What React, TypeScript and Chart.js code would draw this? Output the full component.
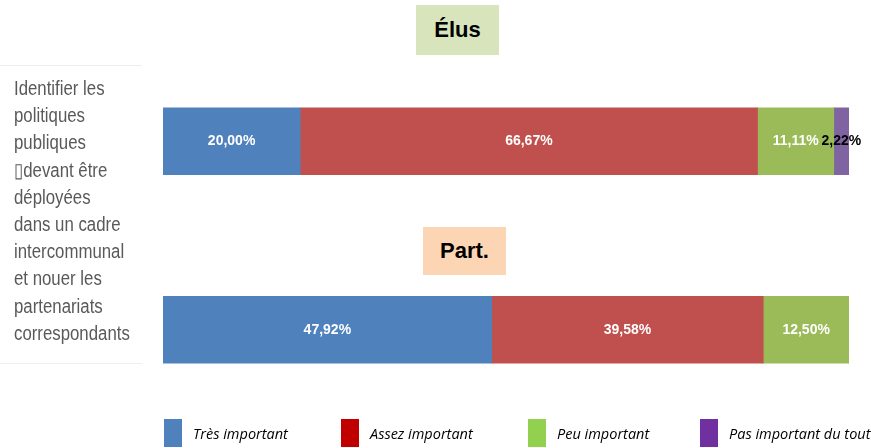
import React, { useEffect, useRef } from "react";
import { Chart, registerables } from "chart.js";

Chart.register(...registerables);

const groups = ["Élus", "Part."];
const seriesNames = ["Très important", "Assez important", "Peu important", "Pas important du tout"];
const tresImportant = [20.0, 47.92];
const assezImportant = [66.67, 39.58];
const peuImportant = [11.11, 12.5];
const pasImportant = [2.22, 0];
const barColors = ["#4f81bd", "#c0504d", "#9bbb59", "#8064a2"];
const legendColors = ["#4f81bd", "#c00000", "#92d050", "#7030a0"];
const labelColors = ["#ffffff", "#ffffff", "#ffffff", "#000000"];
const questionLines = [
  "Identifier les",
  "politiques",
  "publiques",
  "▯devant être",
  "déployées",
  "dans un cadre",
  "intercommunal",
  "et nouer les",
  "partenariats",
  "correspondants",
];

const fmt = (v: number) => v.toFixed(2).replace(".", ",") + "%";

const labelPlugin = {
  id: "segLabels",
  afterDatasetsDraw(chart: any) {
    const ctx = chart.ctx;
    ctx.save();
    ctx.font = "bold 14px 'Liberation Sans', Arial, sans-serif";
    ctx.textAlign = "center";
    ctx.textBaseline = "middle";
    chart.data.datasets.forEach((ds: any, di: number) => {
      const meta = chart.getDatasetMeta(di);
      meta.data.forEach((el: any, i: number) => {
        const v = ds.data[i];
        if (!v) return;
        ctx.fillStyle = labelColors[di];
        ctx.fillText(fmt(v), (el.x + el.base) / 2, el.y);
      });
    });
    ctx.restore();
  },
};

export default function App() {
  const ref = useRef<HTMLCanvasElement>(null);
  useEffect(() => {
    const values = [tresImportant, assezImportant, peuImportant, pasImportant];
    const chart = new Chart(ref.current!, {
      type: "bar",
      data: {
        labels: groups,
        datasets: seriesNames.map((n, i) => ({
          label: n,
          data: values[i],
          backgroundColor: barColors[i],
          borderWidth: 0,
          barThickness: 67,
        })),
      },
      options: {
        indexAxis: "y",
        animation: false,
        responsive: false,
        maintainAspectRatio: false,
        layout: { padding: { left: 163, right: 22, top: 47, bottom: 24 } },
        scales: {
          x: { stacked: true, min: 0, max: 100, display: false },
          y: { stacked: true, display: false },
        },
        plugins: { legend: { display: false }, tooltip: { enabled: false }, title: { display: false } },
      },
      plugins: [labelPlugin],
    } as any);
    return () => chart.destroy();
  }, []);

  const legendLeft = [164, 341, 528, 700];

  return (
    <div style={{ position: "absolute", left: 0, top: 0, width: 871, height: 448, background: "#fff", overflow: "hidden" }}>
      <canvas ref={ref} width={871} height={448} style={{ position: "absolute", left: 0, top: 0 }} />
      <div style={{ position: "absolute", left: 0, top: 65, width: 142, height: 297, borderTop: "1px solid #eeeeee", borderBottom: "1px solid #eeeeee" }} />
      <div
        style={{
          position: "absolute",
          left: 14,
          top: 75,
          fontFamily: "'Liberation Sans Narrow', 'Liberation Sans', Arial, sans-serif",
          fontSize: 20,
          lineHeight: "27.2px",
          color: "#595959",
          whiteSpace: "pre",
          transform: "scaleX(0.84)",
          transformOrigin: "left top",
        }}
      >
        {questionLines.join("\n")}
      </div>
      <div
        style={{
          position: "absolute", left: 416, top: 5, width: 83, height: 50, background: "#d8e4bc",
          display: "flex", alignItems: "center", justifyContent: "center",
          fontFamily: "'Liberation Sans', Arial, sans-serif", fontWeight: "bold", fontSize: 22, color: "#000",
        }}
      >
        {groups[0]}
      </div>
      <div
        style={{
          position: "absolute", left: 423, top: 227, width: 83, height: 48, background: "#fcd5b4",
          display: "flex", alignItems: "center", justifyContent: "center",
          fontFamily: "'Liberation Sans', Arial, sans-serif", fontWeight: "bold", fontSize: 22, color: "#000",
        }}
      >
        {groups[1]}
      </div>
      {seriesNames.map((n, i) => (
        <div key={n} style={{ position: "absolute", left: legendLeft[i], top: 419, height: 28, display: "flex", alignItems: "center" }}>
          <div style={{ width: 18, height: 28, background: legendColors[i] }} />
          <span
            style={{
              marginLeft: 11,
              fontFamily: "'Open Sans', 'Liberation Sans', sans-serif",
              fontStyle: "italic",
              fontSize: 14.5,
              color: "#000",
              whiteSpace: "nowrap",
            }}
          >
            {n}
          </span>
        </div>
      ))}
    </div>
  );
}
